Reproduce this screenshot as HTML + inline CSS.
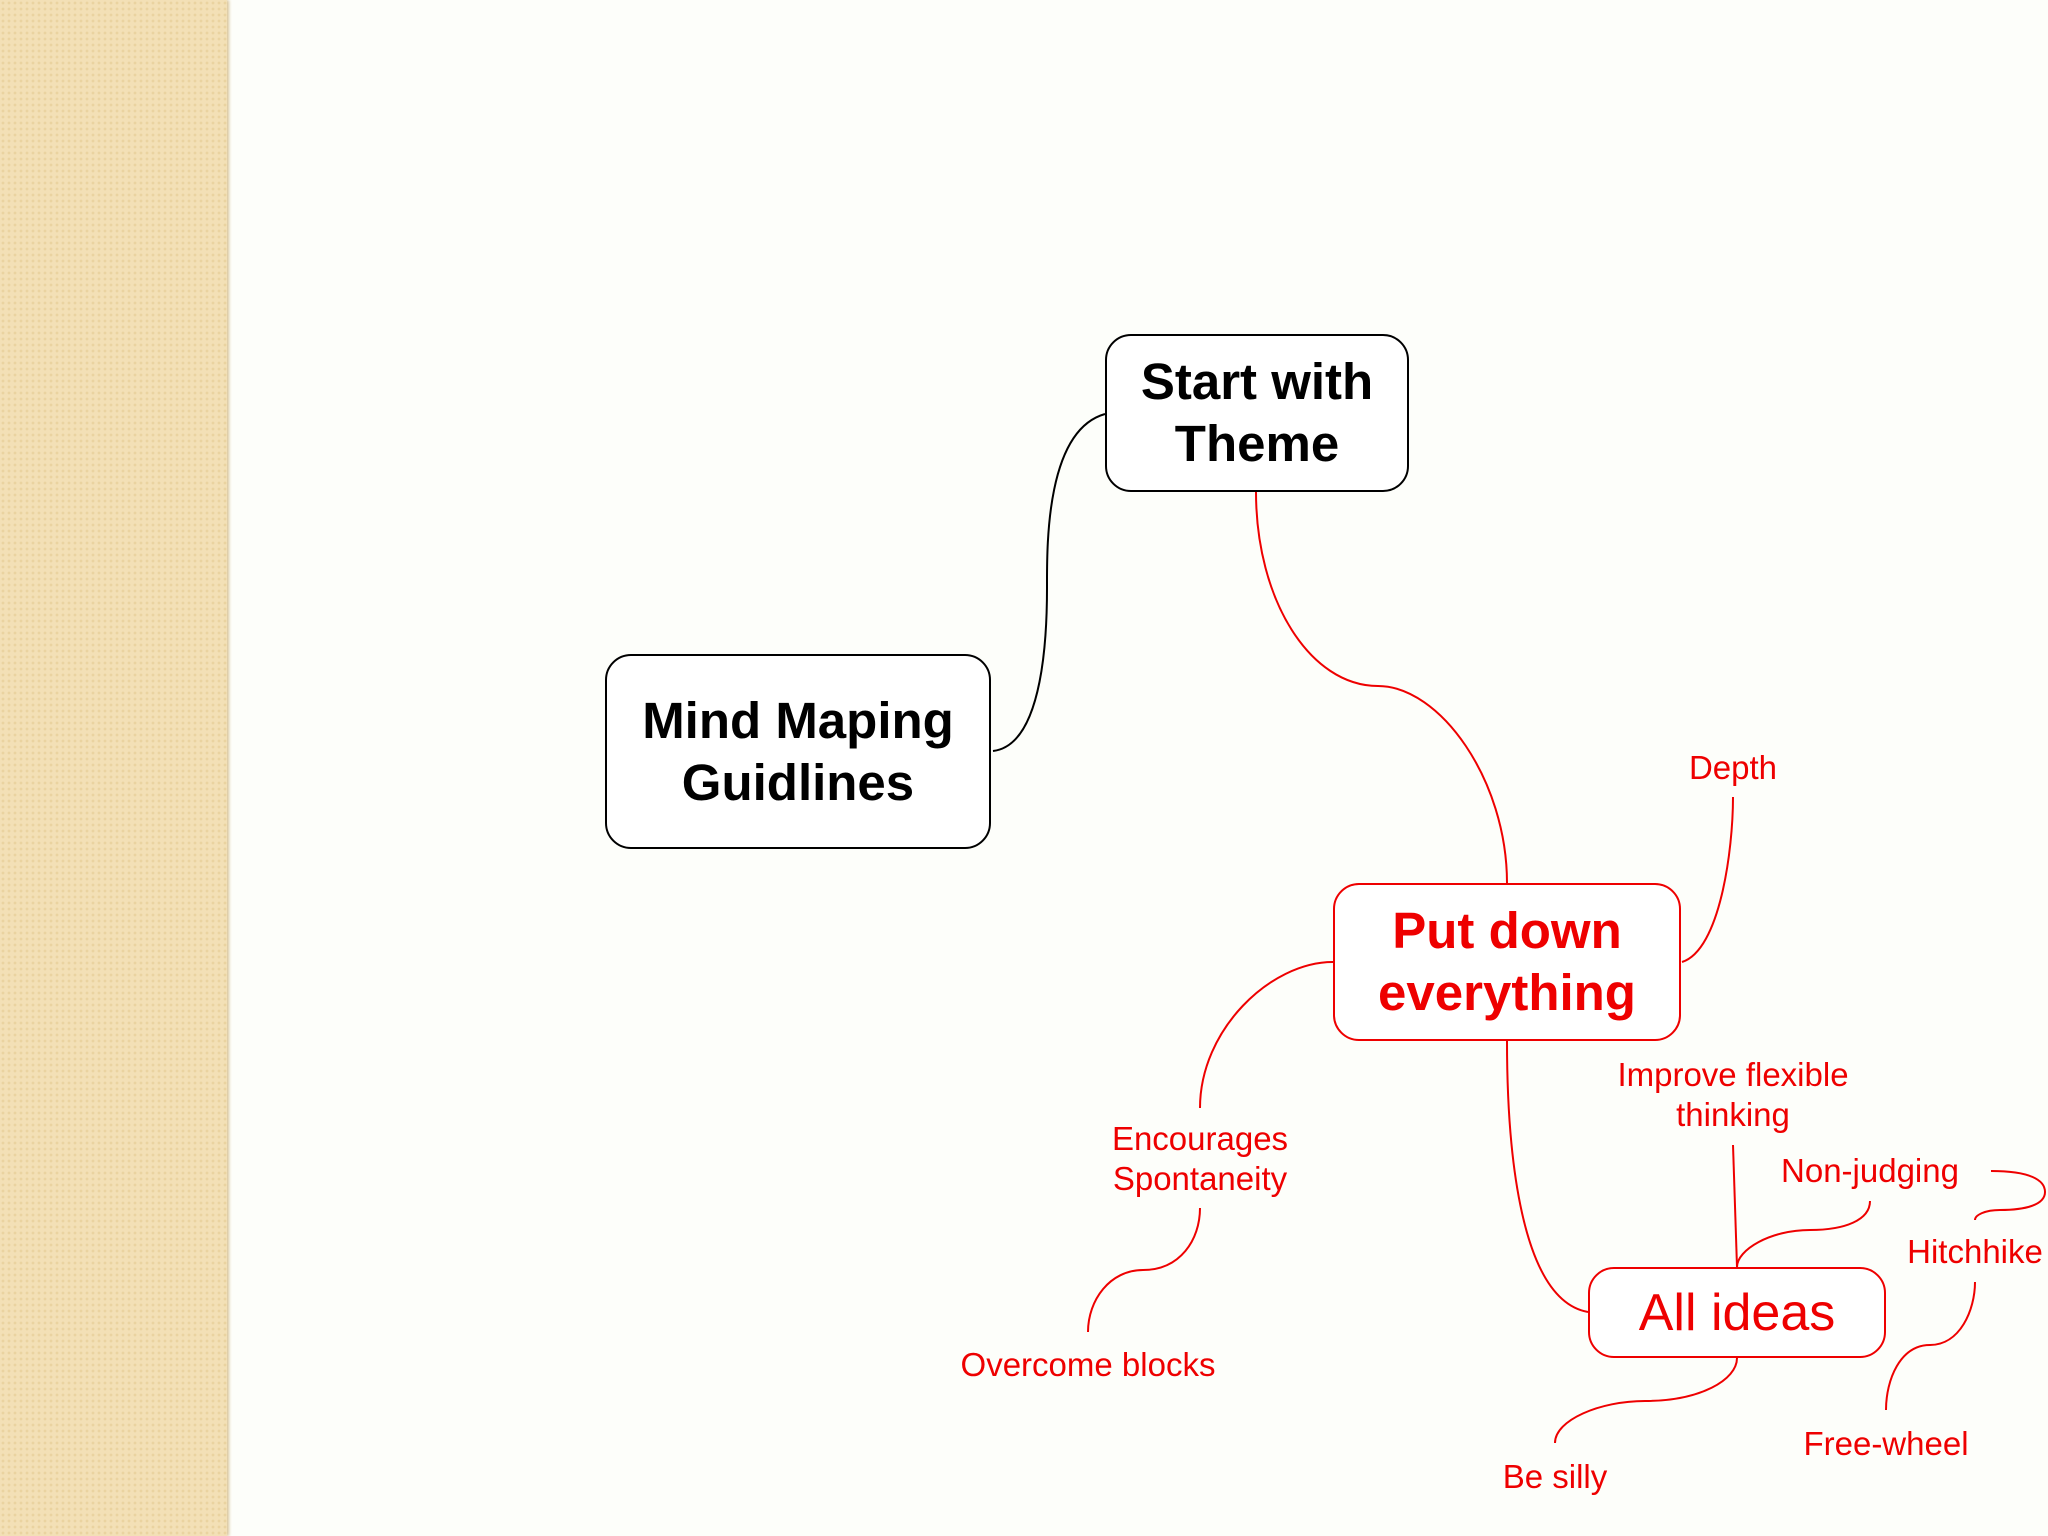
<!DOCTYPE html>
<html><head><meta charset="utf-8"><style>
html,body{margin:0;padding:0}
body{width:2048px;height:1536px;position:relative;overflow:hidden;background:#fdfefa;font-family:"Liberation Sans",sans-serif}
.side{position:absolute;left:0;top:0;width:227px;height:1536px;background-color:#f3e0b6;
background-image:radial-gradient(circle,#ead3a0 1.2px,transparent 1.6px);background-size:6px 6px;box-shadow:2px 0 3px #d9c49a}
.box{position:absolute;box-sizing:border-box;border:2px solid #000;border-radius:26px;background:#fff;display:flex;align-items:center;justify-content:center;text-align:center;font-weight:bold;font-size:51px;line-height:62px}
.red{border-color:#e00;color:#e00}
.t{position:absolute;color:#e00;font-size:33px;line-height:40px;text-align:center;white-space:nowrap;transform:translate(-50%,-50%)}
svg{position:absolute;left:0;top:0}
</style></head><body>
<div class="side"></div>
<svg width="2048" height="1536" fill="none" stroke-width="2">
<path d="M1105,414 C1045,431 1047,549 1047,588 C1047,627 1045,745 993,751" stroke="#000"/>
<g stroke="#e00">
<path d="M1256,492 C1256,600 1310,686 1378,686 C1440,686 1507,780 1507,883"/>
<path d="M1682,962 C1720,950 1733,850 1733,797"/>
<path d="M1333,962 C1270,962 1200,1030 1200,1108"/>
<path d="M1200,1208 C1200,1240 1180,1270 1143,1270 C1110,1270 1088,1300 1088,1332"/>
<path d="M1507,1041 C1507,1150 1520,1300 1588,1312"/>
<path d="M1733,1145 L1737,1267"/>
<path d="M1870,1201 C1870,1220 1845,1230 1810,1230 C1770,1230 1737,1250 1737,1267"/>
<path d="M1991,1171 C2030,1171 2045,1180 2045,1192 C2045,1205 2025,1210 2000,1210 C1985,1210 1975,1215 1975,1220"/>
<path d="M1975,1282 C1975,1310 1960,1345 1930,1345 C1900,1345 1886,1380 1886,1410"/>
<path d="M1737,1358 C1737,1380 1700,1401 1645,1401 C1600,1401 1555,1420 1555,1443"/>
</g>
</svg>
<div class="box" style="left:1105px;top:334px;width:304px;height:158px">Start with<br>Theme</div>
<div class="box" style="left:605px;top:654px;width:386px;height:195px">Mind Maping<br>Guidlines</div>
<div class="box red" style="left:1333px;top:883px;width:348px;height:158px">Put down<br>everything</div>
<div class="box red" style="left:1588px;top:1267px;width:298px;height:91px;font-weight:normal;font-size:52px">All ideas</div>
<div class="t" style="left:1733px;top:768px">Depth</div>
<div class="t" style="left:1733px;top:1095px">Improve flexible<br>thinking</div>
<div class="t" style="left:1870px;top:1171px">Non-judging</div>
<div class="t" style="left:1975px;top:1252px">Hitchhike</div>
<div class="t" style="left:1886px;top:1444px">Free-wheel</div>
<div class="t" style="left:1555px;top:1477px">Be silly</div>
<div class="t" style="left:1200px;top:1159px">Encourages<br>Spontaneity</div>
<div class="t" style="left:1088px;top:1365px">Overcome blocks</div>
</body></html>
